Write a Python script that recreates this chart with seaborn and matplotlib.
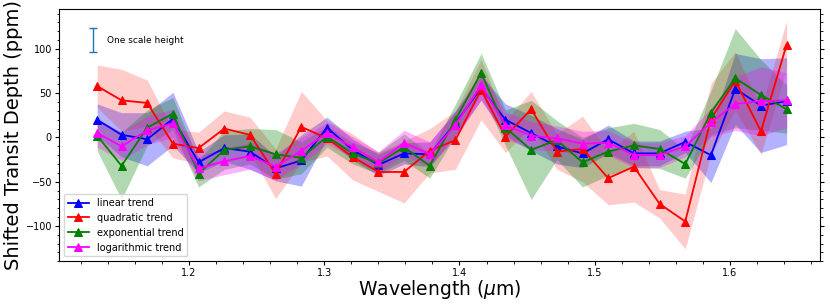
import numpy as np
import pandas as pd
import matplotlib
matplotlib.use("Agg")
import matplotlib.pyplot as plt
import seaborn as sns
from matplotlib.ticker import MultipleLocator

# Wavelength bins (micron)
wavelength = [1.132, 1.150, 1.169, 1.188, 1.207, 1.226, 1.245, 1.264, 1.283, 1.302,
              1.321, 1.340, 1.359, 1.378, 1.397, 1.416, 1.434, 1.453, 1.472, 1.491,
              1.510, 1.529, 1.548, 1.567, 1.586, 1.604, 1.623, 1.642]

# Shifted transit depth (ppm) for each systematics model
linear = [20, 3, -2, 21, -28, -12, -16, -35, -26, 11, -14, -31, -18, -19,
          16, 56, 20, 5, -10, -18, -2, -18, -18, -5, -20, 55, 36, 41]
linear_err = [18, 25, 30, 30, 12, 15, 20, 14, 29, 12, 12, 12, 12, 14,
              14, 14, 18, 20, 20, 16, 16, 14, 14, 12, 31, 40, 53, 49]

quadratic = [58, 42, 39, -7, -12, 10, 3, -41, 12, -1, -22, -39, -39, -15,
             -3, 54, 1, 32, -16, -13, -46, -33, -75, -95, 21, 64, 7, 105]
quadratic_err = [24, 35, 26, 16, 18, 20, 20, 28, 40, 20, 26, 22, 35, 25,
                 33, 34, 18, 20, 20, 37, 30, 40, 16, 31, 40, 33, 26, 27]

exponential = [2, -32, 11, 27, -41, -14, -10, -19, -23, 1, -18, -29, -11, -32,
               20, 73, 11, -14, -3, -28, -16, -9, -13, -30, 28, 67, 48, 32]
exponential_err = [17, 38, 20, 18, 15, 22, 20, 28, 18, 12, 12, 12, 15, 14,
                   18, 22, 20, 56, 22, 28, 27, 25, 22, 16, 25, 56, 40, 27]

logarithmic = [5, -10, 8, 16, -35, -27, -21, -33, -15, 5, -11, -28, -6, -19,
               14, 59, 14, 2, -1, -7, -6, -20, -20, -10, 17, 38, 41, 42]
logarithmic_err = [16, 16, 16, 16, 14, 15, 15, 15, 15, 12, 12, 12, 14, 14,
                   15, 16, 15, 16, 14, 14, 14, 14, 14, 12, 16, 30, 39, 31]

series = [
    ("linear trend", linear, linear_err, "blue", 0.3),
    ("quadratic trend", quadratic, quadratic_err, "red", 0.2),
    ("exponential trend", exponential, exponential_err, "green", 0.3),
    ("logarithmic trend", logarithmic, logarithmic_err, "magenta", 0.3),
]

fig = plt.figure(figsize=(8.3, 3.06), dpi=100)
ax = fig.add_axes([0.071, 0.146, 0.917, 0.824])

for name, vals, err, color, alpha in series:
    df = pd.DataFrame({"wl": wavelength, "depth": vals, "err": err})
    sns.lineplot(data=df, x="wl", y="depth", color=color, marker="^",
                 markersize=6, markeredgecolor=color, linewidth=1.3,
                 label=name, ax=ax)
    ax.fill_between(df["wl"], df["depth"] - df["err"], df["depth"] + df["err"],
                    color=color, alpha=alpha, linewidth=0)

# Scale height bar
ax.errorbar([1.129], [110], yerr=[13.5], color="tab:blue", capsize=3, linewidth=1)
ax.text(1.139, 110, "One scale height", fontsize=6.5, va="center")

ax.set_xlim(1.1037, 1.6667)
ax.set_ylim(-140, 145)
ax.xaxis.set_major_locator(MultipleLocator(0.1))
ax.xaxis.set_minor_locator(MultipleLocator(0.02))
ax.yaxis.set_major_locator(MultipleLocator(50))
ax.yaxis.set_minor_locator(MultipleLocator(10))
ax.tick_params(which="both", labelsize=7, right=True, pad=2)
ax.tick_params(which="major", length=3)
ax.tick_params(which="minor", length=1.8)
ax.set_xlabel(r"Wavelength ($\mu$m)", fontsize=13.5, labelpad=0)
ax.set_ylabel("Shifted Transit Depth (ppm)", fontsize=14, labelpad=2)
ax.legend(loc="lower left", fontsize=7, handlelength=2.2)

fig.savefig("out.png", dpi=100)
